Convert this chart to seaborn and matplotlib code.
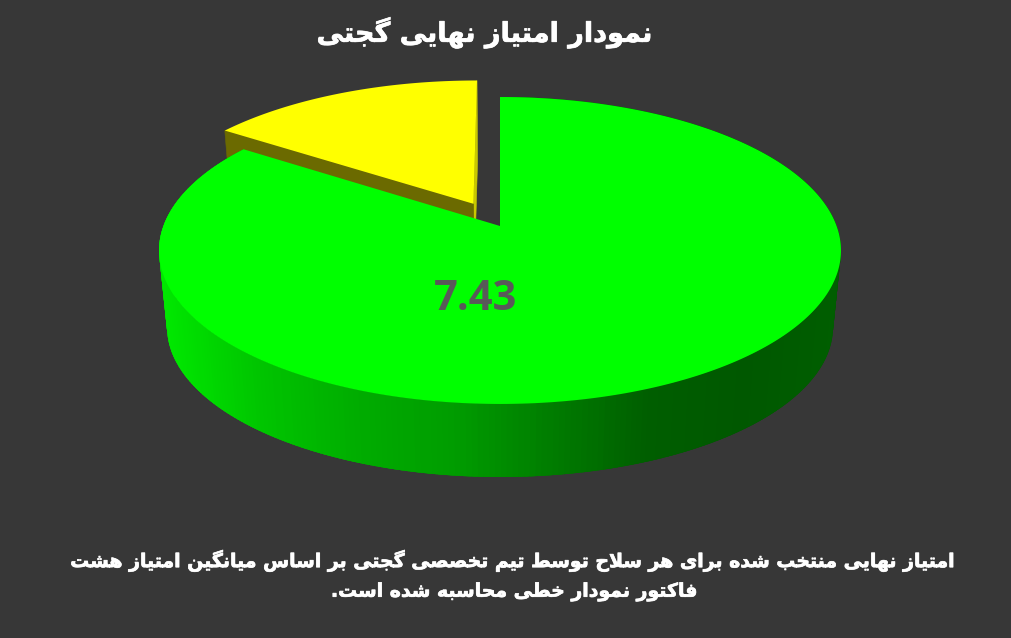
import numpy as np
import matplotlib
matplotlib.use('Agg')
import matplotlib.pyplot as plt
import matplotlib.patheffects as pe
import seaborn as sns

# values
labels = ['7.43', '']
values = [7.43, 1.37]
explode = [0, 0.172]
title_text = 'نمودار امتیاز نهایی گجتی'
note_lines = ['امتیاز نهایی منتخب شده برای هر سلاح توسط تیم تخصصی گجتی بر اساس میانگین امتیاز هشت',
              'فاکتور نمودار خطی محاسبه شده است.']

bg = '#373737'
side_stops = ['#00e800', '#00c400', '#00ac00', '#009c00', '#007c00', '#005e00', '#005800', '#005e00']

# (isolated, final, initial, medial); two-form letters do not join to the next one
forms = {
    'ا': ('\ufe8d', '\ufe8e'), 'د': ('\ufea9', '\ufeaa'), 'ذ': ('\ufeab', '\ufeac'),
    'ر': ('\ufead', '\ufeae'), 'ز': ('\ufeaf', '\ufeb0'), 'و': ('\ufeed', '\ufeee'),
    'ب': ('\ufe8f', '\ufe90', '\ufe91', '\ufe92'), 'ت': ('\ufe95', '\ufe96', '\ufe97', '\ufe98'),
    'ج': ('\ufe9d', '\ufe9e', '\ufe9f', '\ufea0'), 'ح': ('\ufea1', '\ufea2', '\ufea3', '\ufea4'),
    'خ': ('\ufea5', '\ufea6', '\ufea7', '\ufea8'), 'س': ('\ufeb1', '\ufeb2', '\ufeb3', '\ufeb4'),
    'ش': ('\ufeb5', '\ufeb6', '\ufeb7', '\ufeb8'), 'ص': ('\ufeb9', '\ufeba', '\ufebb', '\ufebc'),
    'ط': ('\ufec1', '\ufec2', '\ufec3', '\ufec4'), 'ف': ('\ufed1', '\ufed2', '\ufed3', '\ufed4'),
    'ک': ('\ufb8e', '\ufb8f', '\ufb90', '\ufb91'), 'گ': ('\ufb92', '\ufb93', '\ufb94', '\ufb95'),
    'ل': ('\ufedd', '\ufede', '\ufedf', '\ufee0'), 'م': ('\ufee1', '\ufee2', '\ufee3', '\ufee4'),
    'ن': ('\ufee5', '\ufee6', '\ufee7', '\ufee8'), 'ه': ('\ufee9', '\ufeea', '\ufeeb', '\ufeec'),
    'ی': ('\ufbfc', '\ufbfd', '\ufbfe', '\ufbff'),
}


def shape(text):
    # matplotlib has no arabic shaping, so pick the forms and flip to visual order
    out = []
    chars = list(text)
    i = 0
    while i < len(chars):
        c = chars[i]
        prev = chars[i - 1] if i > 0 else ' '
        joins_prev = prev in forms and len(forms[prev]) == 4
        if c == 'ل' and i + 1 < len(chars) and chars[i + 1] == 'ا':
            out.append('\ufefc' if joins_prev else '\ufefb')
            i += 2
            continue
        if c not in forms:
            out.append(c)
            i += 1
            continue
        f = forms[c]
        nxt = chars[i + 1] if i + 1 < len(chars) else ' '
        joins_next = len(f) == 4 and nxt in forms
        if joins_prev and joins_next:
            out.append(f[3])
        elif joins_prev:
            out.append(f[1])
        elif joins_next:
            out.append(f[2])
        else:
            out.append(f[0])
        i += 1
    return ''.join(out[::-1])


def top_xy(x, y):
    # perspective of the unit pie onto the image
    d = 1 + 0.1596 * y
    return 500 + 336.6 * x / d, (226 - 113.5 * y) / d


def floor_xy(x, y):
    sx, sy = top_xy(x, y)
    return 500 + 0.9765 * (sx - 500), 303.2 + 0.9765 * (sy - 226)


sns.set_theme(style='dark', rc={'figure.facecolor': bg, 'axes.facecolor': bg})
plt.rcParams['font.family'] = ['DejaVu Sans']

fig, ax = plt.subplots(figsize=(10.11, 6.38), dpi=100)
fig.subplots_adjust(0, 0, 1, 1)

wedges, _ = ax.pie(values, explode=explode, startangle=90, counterclock=False)
slices = []
for w in wedges:
    th = np.radians(np.linspace(w.theta1, w.theta2, 400))
    slices.append((w.center[0], w.center[1], th))
    w.remove()

ax.set_aspect('auto')
ax.set_xlim(0, 1011)
ax.set_ylim(638, 0)
ax.set_axis_off()
fig.patch.set_facecolor(bg)

# yellow slice, walls first
cx, cy, th = slices[1]
ends = [th[0], th[-1]]
for a, col in zip(sorted(ends, key=lambda t: np.sin(t - np.pi / 2)), ['#c9c800', '#6b6a00']):
    px, py = cx + np.cos(a), cy + np.sin(a)
    t0 = top_xy(cx, cy)
    t1 = top_xy(px, py)
    b1 = floor_xy(px, py)
    b0 = floor_xy(cx, cy)
    ax.fill([t0[0], t1[0], b1[0], b0[0]], [t0[1], t1[1], b1[1], b0[1]], color=col, lw=0.4, zorder=1)
rim = top_xy(cx + np.cos(th), cy + np.sin(th))
apex = top_xy(cx, cy)
ax.fill(np.r_[apex[0], rim[0]], np.r_[apex[1], rim[1]], color='#ffff00', lw=0, zorder=2)

# green slice, side wall as thin strips shaded along x, each one overlaps the next
cx, cy, th = slices[0]
side_pal = sns.blend_palette(side_stops, 256)
edge = np.linspace(th[0], th[-1], 361)
for a0, a1 in zip(edge[:-1], np.minimum(edge[1:] + np.radians(1.5), th[-1])):
    t0 = top_xy(cx + np.cos(a0), cy + np.sin(a0))
    t1 = top_xy(cx + np.cos(a1), cy + np.sin(a1))
    b0 = floor_xy(cx + np.cos(a0), cy + np.sin(a0))
    b1 = floor_xy(cx + np.cos(a1), cy + np.sin(a1))
    k = int(np.clip((t0[0] - 160) / 680, 0, 1) * 255)
    ax.fill([t0[0], t1[0], b1[0], b0[0]], [t0[1], t1[1], b1[1], b0[1]],
            color=side_pal[k], lw=0, zorder=3)
rim = top_xy(cx + np.cos(th), cy + np.sin(th))
apex = top_xy(cx, cy)
ax.fill(np.r_[apex[0], rim[0]], np.r_[apex[1], rim[1]], color='#00ff00', lw=0, zorder=4)

ax.text(476, 299, labels[0], color='#595959', fontsize=30, fontweight='bold',
        family='Open Sans', ha='center', va='center', zorder=5)

heavy = [pe.withStroke(linewidth=0.5, foreground='white')]
ax.text(485, 33, shape(title_text), color='white', fontsize=19.5, fontweight='bold',
        ha='center', va='center', path_effects=heavy)
ax.text(515, 561, shape(note_lines[0]), color='white', fontsize=13.6, fontweight='bold',
        ha='center', va='center', path_effects=heavy)
ax.text(515, 592, shape(note_lines[1]), color='white', fontsize=13.6, fontweight='bold',
        ha='center', va='center', path_effects=heavy)

fig.savefig('out.png', dpi=100, facecolor=bg)
